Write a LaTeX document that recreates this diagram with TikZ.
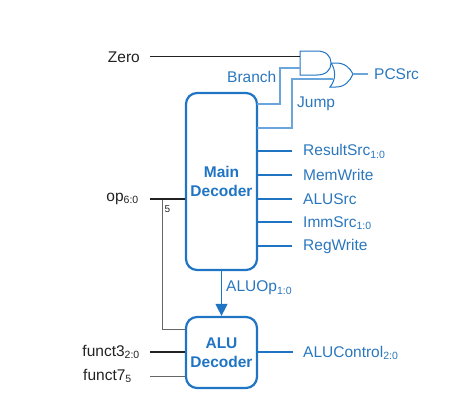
\documentclass[tikz,border=0pt]{standalone}
\usepackage{fontspec}
\setmainfont{Liberation Sans}
\usetikzlibrary{arrows.meta}
\definecolor{cblue}{HTML}{1F74C4}
\definecolor{wblue}{HTML}{6AA5DC}
\definecolor{tblue}{HTML}{2B77BE}
\definecolor{tblack}{HTML}{222222}
\tikzset{
  x=1pt,y=-1pt,
  dec/.style={draw=cblue,line width=2.2pt,rounded corners=11pt,minimum width=71pt,inner sep=0pt,align=center,font=\fontsize{15.5}{19.5}\selectfont\bfseries,text=cblue},
  lab/.style={font=\fontsize{15.5}{18}\selectfont,text=tblue,inner sep=0pt,anchor=west},
  blk/.style={font=\fontsize{15.5}{18}\selectfont,text=tblack,inner sep=0pt,anchor=east},
  sig/.style={draw=cblue,line width=1.1pt},
  sigl/.style={draw=wblue,line width=1.2pt},
  bus/.style={draw=cblue,line width=2pt},
  kw/.style={draw=tblack,line width=0.9pt},
  kbus/.style={draw=tblack,line width=2pt},
  gw/.style={draw=black!60,line width=0.9pt},
  gate/.style={draw=cblue,line width=1pt,fill=white},
}
\newcommand{\sbs}[1]{\textsubscript{\fontsize{10.5}{10.5}\selectfont #1}}
\begin{document}
\begin{tikzpicture}
\useasboundingbox (0,0) rectangle (451,407);
\node[dec,minimum height=177pt] (main) at (221.5,181.5) {Main\\Decoder};
\node[dec,minimum height=71pt] (alu) at (221.5,352.5) {ALU\\Decoder};
% free-end coordinates
\coordinate (zero) at (150,56);
\coordinate (opin) at (150,199);
\coordinate (f3) at (150,352);
\coordinate (f7) at (150,376);
\coordinate (opj) at (162,199);
\coordinate (andA) at (300,56);
\coordinate (andB) at (300,68);
\coordinate (orB) at (333,79);
\coordinate (orOut) at (353,74);
\coordinate (pc) at (368,74);
\coordinate (brS) at (257,104);
\coordinate (jpS) at (257,128);
\coordinate (rs) at (292,151);
\coordinate (mw) at (292,175);
\coordinate (as) at (292,199);
\coordinate (is) at (292,222);
\coordinate (rw) at (292,246);
\coordinate (ac) at (293,352);
% gates
\path[gate] (331,63) -- (336,63) .. controls (345,63) and (350,68) .. (353,74) .. controls (350,81) and (345,87) .. (336,87) -- (330,87) .. controls (336,80) and (336,70) .. (331,63) -- cycle;
\path[gate] (300,51) -- (317,51) .. controls (326,51) and (331,56) .. (331,63) .. controls (331,70) and (326,75) .. (317,75) -- (300,75) -- cycle;
% wires
\draw[kw] (zero) -- (andA);
\draw[sigl] (brS) -- (280,104) -- (280,68) -- (andB);
\draw[sigl] (jpS) -- (292,128) -- (292,79) -- (orB);
\draw[sigl] (orOut) -- (pc);
\draw[bus] (257,151) -- (rs);
\draw[sig] (257,175) -- (mw);
\draw[sig] (257,199) -- (as);
\draw[bus] (257,222) -- (is);
\draw[sig] (257,246) -- (rw);
\draw[sig] (257,352) -- (ac);
\draw[gw] (opj) -- (162,329) -- (185,329);
\draw[kbus] (opin) -- (185,199);
\draw[kbus] (f3) -- (185,352);
\draw[gw] (f7) -- (185,376);
\draw[draw=cblue,line width=1.2pt,-{Triangle[length=12pt,width=12pt]}] (main.south) -- (alu.north);
% labels
\node[blk] (tzero) at (140,57) {Zero};
\node[blk] (top) at (139,199) {op\sbs{6:0}};
\node[blk] (tf3) at (140,352) {funct3\sbs{2:0}};
\node[blk] (tf7) at (132,376) {funct7\sbs{5}};
\node[inner sep=0pt,font=\fontsize{10}{10}\selectfont,text=tblack] (five) at (167.5,209.5) {5};
\node[lab] (tbr) at (227,77) {Branch};
\node[lab] (tjp) at (297,104) {Jump};
\node[lab] (tpc) at (374,74) {PCSrc};
\node[lab] (trs) at (303,151.5) {ResultSrc\sbs{1:0}};
\node[lab] (tmw) at (303,175) {MemWrite};
\node[lab] (tas) at (303,199) {ALUSrc};
\node[lab] (tis) at (303,223) {ImmSrc\sbs{1:0}};
\node[lab] (trw) at (303,246) {RegWrite};
\node[lab] (tao) at (226,288) {ALUOp\sbs{1:0}};
\node[lab] (tac) at (303,353) {ALUControl\sbs{2:0}};
\end{tikzpicture}
\end{document}
